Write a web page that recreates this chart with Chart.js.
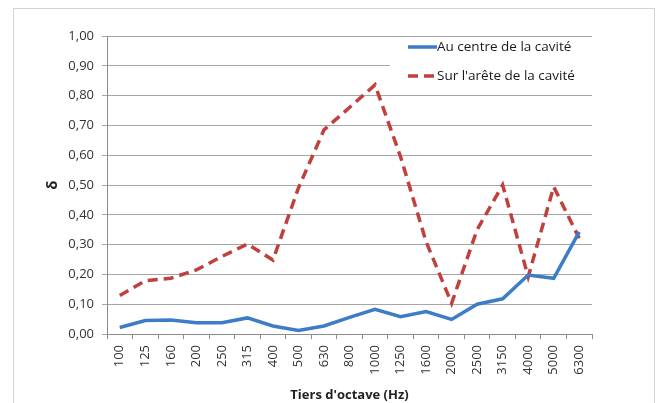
<!DOCTYPE html>
<html>
<head>
<meta charset="utf-8">
<script src="https://cdn.jsdelivr.net/npm/chart.js@4"></script>
<style>
  html, body { margin: 0; padding: 0; background: #fff; }
  #wrap { width: 659px; height: 403px; }
</style>
</head>
<body>
<div id="wrap"><canvas id="chart" width="659" height="403"></canvas></div>
<script>
// bandes de tiers d'octave (Hz)
const bandes = ['100', '125', '160', '200', '250', '315', '400', '500', '630', '800',
  '1000', '1250', '1600', '2000', '2500', '3150', '4000', '5000', '6300'];

// δ au centre de la cavité
const centre = [0.022, 0.045, 0.047, 0.038, 0.038, 0.054, 0.027, 0.012, 0.027, 0.056,
  0.083, 0.058, 0.075, 0.049, 0.100, 0.118, 0.198, 0.187, 0.343];

// δ sur l'arête de la cavité
const arete = [0.129, 0.179, 0.187, 0.215, 0.260, 0.302, 0.248, 0.490, 0.685, 0.760,
  0.836, 0.595, 0.310, 0.103, 0.350, 0.500, 0.192, 0.494, 0.321];

const legende = [
  { text: 'Au centre de la cavité', color: '#3D7DC8', dash: [] },
  { text: "Sur l'arête de la cavité", color: '#C0403D', dash: [10, 6] }
];

// cadre gris autour du graphique
const cadre = {
  id: 'cadre',
  beforeDraw(chart) {
    const ctx = chart.ctx;
    ctx.save();
    ctx.fillStyle = '#fff';
    ctx.fillRect(0, 0, chart.width, chart.height);
    ctx.strokeStyle = '#d4d4d4';
    ctx.lineWidth = 1;
    ctx.strokeRect(13.5, 8.5, 641, 420);
    ctx.restore();
  }
};

// légende dans la zone de tracé, fond blanc par-dessus la grille
const legendeInterne = {
  id: 'legendeInterne',
  beforeDatasetsDraw(chart) {
    const ctx = chart.ctx;
    const area = chart.chartArea;
    ctx.save();
    ctx.fillStyle = '#fff';
    ctx.fillRect(390, area.top + 1, area.right - 390, 57);
    ctx.font = '13.5px "Open Sans"';
    ctx.textBaseline = 'middle';
    legende.forEach((item, i) => {
      const y = 47 + i * 29;
      ctx.strokeStyle = item.color;
      ctx.lineWidth = 3.5;
      ctx.setLineDash(item.dash);
      ctx.beginPath();
      ctx.moveTo(408, y);
      ctx.lineTo(437, y);
      ctx.stroke();
      ctx.setLineDash([]);
      ctx.fillStyle = '#1a1a1a';
      ctx.fillText(item.text, 437, y);
    });
    ctx.restore();
  }
};

new Chart(document.getElementById('chart'), {
  type: 'line',
  data: {
    labels: bandes,
    datasets: [
      {
        label: legende[0].text,
        data: centre,
        borderColor: legende[0].color,
        borderWidth: 3.5,
        pointRadius: 0,
        tension: 0,
        fill: false
      },
      {
        label: legende[1].text,
        data: arete,
        borderColor: legende[1].color,
        borderWidth: 3.5,
        borderDash: legende[1].dash,
        pointRadius: 0,
        tension: 0,
        fill: false
      }
    ]
  },
  options: {
    responsive: false,
    animation: false,
    layout: { padding: { left: 0, right: 67, top: 36, bottom: 0 } },
    plugins: {
      legend: { display: false },
      tooltip: { enabled: false }
    },
    scales: {
      x: {
        offset: true,
        afterFit(scale) { scale.height = 69; },
        grid: {
          display: true,
          offset: true,
          drawOnChartArea: false,
          tickLength: 5,
          color: '#8c8c8c'
        },
        border: { color: '#8c8c8c' },
        ticks: {
          minRotation: 90,
          maxRotation: 90,
          autoSkip: false,
          padding: 6,
          color: '#333',
          font: { family: 'Open Sans', size: 13 }
        },
        title: {
          display: true,
          text: "Tiers d'octave (Hz)",
          color: '#222',
          padding: { top: 0, bottom: 0 },
          font: { family: 'Open Sans', size: 13, weight: 'bold' }
        }
      },
      y: {
        min: 0,
        max: 1,
        afterFit(scale) { scale.width = 107; },
        grid: {
          color: '#a6a6a6',
          tickLength: 5
        },
        border: { color: '#8c8c8c' },
        ticks: {
          stepSize: 0.1,
          padding: 8,
          color: '#333',
          font: { family: 'Open Sans', size: 13 },
          callback: v => v.toFixed(2).replace('.', ',')
        },
        title: {
          display: true,
          text: 'δ',
          color: '#222',
          padding: { top: 44, bottom: 0 },
          font: { family: 'Open Sans', size: 15, weight: 'bold' }
        }
      }
    }
  },
  plugins: [cadre, legendeInterne]
});
</script>
</body>
</html>
